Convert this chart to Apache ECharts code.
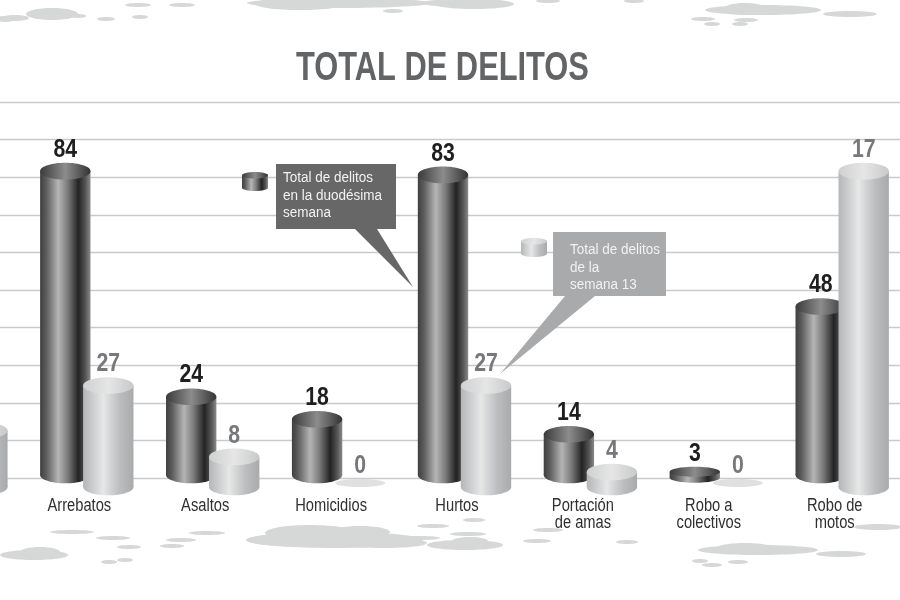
<!DOCTYPE html>
<html>
<head>
<meta charset="utf-8">
<style>html,body{margin:0;padding:0;background:#fff}#c{width:900px;height:600px}</style>
<script src="https://cdn.jsdelivr.net/npm/echarts@6/dist/echarts.min.js"></script>
</head>
<body>
<div id="c"></div>
<script>
// Categories (first one is cropped off the left edge in the source, last is an empty slot)
var categories = ['', 'Arrebatos', 'Asaltos', 'Homicidios', 'Hurtos', 'Portación\nde amas', 'Robo a\ncolectivos', 'Robo de\nmotos', ''];
// Week 12 (dark) bar values
var semana12 = [null, 84, 24, 18, 83, 14, 3, 48, null];
// Week 13 (light) bar values as drawn (the motos bar is drawn about 84 tall)
var semana13 = [15, 27, 8, 0, 27, 4, 0, 84, null];
// Week 13 numbers as printed above the bars (the source prints 17 on the tall motos bar)
var semana13Impresos = ['', '27', '8', '0', '27', '4', '0', '17', ''];
var semana12Impresos = ['', '84', '24', '18', '83', '14', '3', '48', ''];

var FONT = '"Liberation Sans",sans-serif';
var G = echarts.graphic.LinearGradient;
function darkBody(){return new G(0,0,1,0,[{offset:0,color:'#3f3f3f'},{offset:.12,color:'#5c5c5c'},{offset:.36,color:'#b5b5b5'},{offset:.55,color:'#7a7a7a'},{offset:.76,color:'#232323'},{offset:.9,color:'#555'},{offset:1,color:'#8a8a8a'}]);}
function darkTop(){return new G(0,0,1,0,[{offset:0,color:'#3a3a3a'},{offset:.5,color:'#8c8c8c'},{offset:1,color:'#333'}]);}
function lightBody(){return new G(0,0,1,0,[{offset:0,color:'#b4b6b8'},{offset:.4,color:'#e6e7e7'},{offset:.72,color:'#bcbebf'},{offset:1,color:'#a8aaac'}]);}
function lightTop(){return new G(0,0,1,0,[{offset:0,color:'#cfd0d1'},{offset:.5,color:'#e6e6e6'},{offset:1,color:'#c8c9ca'}]);}

var DEPTH = 9; // visual drop of the 3D cylinders below the zero gridline

function cylinder(cfg){
  return function(params, api){
    var i = api.value(0), v = api.value(1);
    if (v == null || isNaN(v)) return null;
    var band = api.size([1,0])[0];
    var p = api.coord([i, v]), zero = api.coord([i, 0]);
    var cx = p[0] + band * cfg.shift, rx = band * 0.2;
    var text = cfg.printed[i];
    var children = [];
    var topY, topEdge;
    if (v === 0) {
      topY = zero[1] + 5;
      children.push({type:'ellipse', shape:{cx:cx, cy:topY, rx:rx, ry:4}, style:{fill:'#e0e0e0'}});
      topEdge = topY - 4;
    } else {
      var ry = 8.3;
      topY = p[1] + DEPTH;
      var baseY = zero[1] + cfg.base;
      if (baseY - topY < 8) { ry = 5; topY -= 4; baseY = topY + 6; }
      topEdge = topY - ry;
      children.push({type:'ellipse', shape:{cx:cx, cy:baseY, rx:rx, ry:ry}, style:{fill:cfg.body()}});
      if (baseY > topY) children.push({type:'rect', shape:{x:cx-rx, y:topY, width:rx*2, height:baseY-topY}, style:{fill:cfg.body()}});
      children.push({type:'ellipse', shape:{cx:cx, cy:topY, rx:rx, ry:ry}, style:{fill:cfg.top()}});
    }
    if (text) children.push({type:'text', x:cx + (cfg.labelDx||0), y:topEdge-13, scaleX:0.85,
      style:{text:text, x:0, y:0, align:'center', verticalAlign:'middle', font:'bold 25px '+FONT, fill:cfg.labelColor}});
    return {type:'group', children:children};
  };
}

function axisText(params, api){
  var i = api.value(0), name = categories[i];
  if (!name) return null;
  var p = api.coord([i, 0]);
  return {type:'text', x:p[0]-1, y:p[1]+19.5, scaleX:0.84,
    style:{text:name, x:0, y:0, align:'center', verticalAlign:'top', font:'17.5px '+FONT, lineHeight:17, fill:'#2f2f2f'}};
}

// Decorative paint splatter on the page background
var splatter = [[52,14,26,6],[78,16,8,2],[15,18,14,3],[339,3,92,5],[300,4,45,6],[474,4,40,5],[440,3,18,3],[763,10,58,5],[745,9,22,6],[850,14,27,3],[138,5,13,2],[182,5,13,2],[5,19,10,3],[106,19,9,2],[140,17,8,2],[393,11,10,2],[548,1,12,2],[634,1,10,2],[703,19,12,2],[746,20,12,2],[712,24,8,2],[740,24,8,2],
 [335,540,88,8],[310,533,45,8],[360,532,30,6],[290,540,44,6],[385,543,42,5],[420,538,20,2],[465,545,38,5],[470,541,18,4],[34,555,34,5],[40,552,20,5],[758,550,60,5],[745,548,28,5],[841,554,25,3],[878,527,24,3],[72,532,22,2],[113,538,17,2],[129,547,12,2],[181,540,15,2],[172,546,12,2],[207,533,18,2],[433,526,16,2],[474,520,11,2],[468,534,18,2],[548,530,15,2],[537,541,14,2],[627,542,11,2],[712,565,10,2],[738,562,10,2],[700,561,8,2],[109,562,8,2],[125,560,8,2]];

function miniCyl(x, y, w, h, body, top){
  var rx = w/2, ry = 3.2;
  return [
    {type:'ellipse', z:5, shape:{cx:x+rx, cy:y+h-ry, rx:rx, ry:ry}, style:{fill:body}},
    {type:'rect', z:5, shape:{x:x, y:y+ry, width:w, height:h-2*ry}, style:{fill:body}},
    {type:'ellipse', z:5, shape:{cx:x+rx, cy:y+ry, rx:rx, ry:ry}, style:{fill:top}}
  ];
}
function callText(x, y, s, color){
  return {type:'text', z:6, x:x, y:y, scaleX:0.87, style:{text:s, x:0, y:0, font:'15.5px '+FONT, fill:color, lineHeight:17.5, verticalAlign:'top'}};
}

var graphics = splatter.map(function(s){
  return {type:'ellipse', z:-10, shape:{cx:s[0], cy:s[1], rx:s[2], ry:s[3]}, style:{fill:'#d6d7d7'}};
}).concat(
  miniCyl(242,172,26,19,darkBody(),darkTop()),
  miniCyl(521,238,26,19,lightBody(),lightTop()),
  [
   {type:'polygon', z:5, shape:{points:[[276,164],[396,164],[396,229],[377,229],[413,287],[355,229],[276,229]]}, style:{fill:'#676767'}},
   callText(283,169,'Total de delitos\nen la duodésima\nsemana','#f2f2f2'),
   {type:'polygon', z:5, shape:{points:[[553,232],[666,232],[666,296],[595,296],[500,374],[565,296],[553,296]]}, style:{fill:'#a8aaac'}},
   callText(570,241,'Total de delitos\nde la\nsemana 13','#f2f2f2'),
   {type:'text', z:6, x:296, y:48, scaleX:0.752, style:{text:'TOTAL DE DELITOS', x:0, y:0, font:'bold 41px '+FONT, fill:'#636466', verticalAlign:'top'}}
  ]);

var chart = echarts.init(document.getElementById('c'), null, {renderer:'canvas'});
chart.setOption({
  animation:false,
  backgroundColor:'#ffffff',
  grid:{left:-108.55, top:102, width:1133.1, height:376, containLabel:false, outerBoundsMode:'none'},
  xAxis:{type:'category', data:categories, axisLine:{show:false}, axisTick:{show:false}, splitLine:{show:false}, axisLabel:{show:false}},
  yAxis:{type:'value', min:0, max:100, interval:10, axisLine:{show:false}, axisTick:{show:false}, axisLabel:{show:false},
    splitLine:{show:true, lineStyle:{color:'#c9caca', width:1.4}}},
  graphic:graphics,
  series:[
    {type:'custom', name:'Semana 12', z:3, clip:false,
     renderItem:cylinder({shift:-15/125.9, base:-3, body:darkBody, top:darkTop, printed:semana12Impresos, labelColor:'#1f1f1f', labelDx:0}),
     data:categories.map(function(c,i){return [i, semana12[i]];})},
    {type:'custom', name:'Semana 13', z:4, clip:false,
     renderItem:cylinder({shift:28/125.9, base:9, body:lightBody, top:lightTop, printed:semana13Impresos, labelColor:'#77787b', labelDx:0}),
     data:categories.map(function(c,i){return [i, semana13[i]];})},
    {type:'custom', name:'Categorías', z:5, clip:false, renderItem:axisText,
     data:categories.map(function(c,i){return [i, 0];})}
  ]
});
</script>
</body>
</html>
